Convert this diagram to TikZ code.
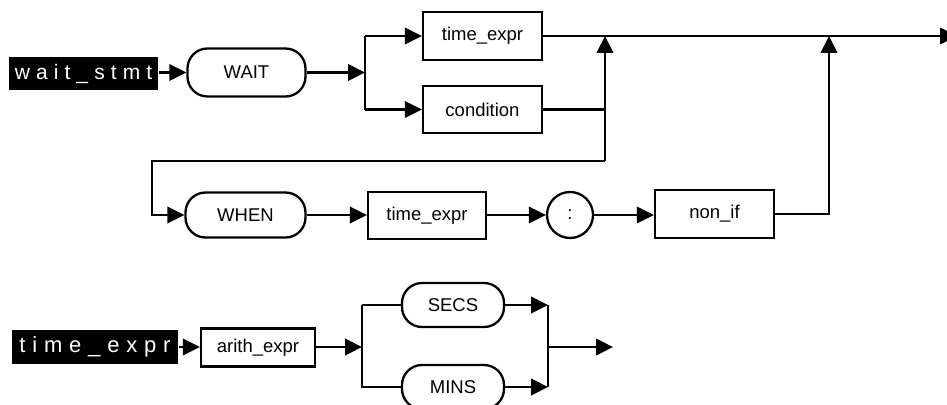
\documentclass[tikz,border=0pt]{standalone}
\usepackage{fontspec}
\setmainfont{Liberation Sans}
\usetikzlibrary{arrows.meta}
\begin{document}
\begin{tikzpicture}[x=1pt,y=-1pt,
  line width=2.3pt,
  arr/.style={-{Triangle[length=17pt,width=16.5pt]}},
  txt/.style={font=\fontsize{18.5}{20}\selectfont, inner sep=0pt},
  boxnode/.style={txt, draw, rectangle},
  termnode/.style={txt, draw, rectangle, rounded corners=20pt},
  circnode/.style={txt, draw, circle},
  rulename/.style 2 args={inner sep=0pt, fill=black, text=white,
    font=\fontsize{#1}{24}\selectfont\addfontfeature{LetterSpace=#2}}]
\useasboundingbox (0,0) rectangle (947,404);

% ---- wait_stmt ----
\node[rulename={21}{29}, minimum width=149pt, minimum height=32pt] (lblA) at (83.5,73.5) {wait\_stmt};
\node[termnode, minimum width=118pt, minimum height=48pt] (wait) at (246.5,72.5) {WAIT};
\node[boxnode, minimum width=119pt, minimum height=48pt] (te1) at (482.5,36) {time\_expr};
\node[boxnode, minimum width=119pt, minimum height=47pt] (cond) at (482.5,109.5) {condition};
\node[termnode, minimum width=120pt, minimum height=45pt] (when) at (245.5,215) {WHEN};
\node[boxnode, minimum width=118pt, minimum height=47pt] (te2) at (427,215.5) {time\_expr};
\node[circnode, minimum size=46pt] (colon) at (570,215) {:};
\node[boxnode, minimum width=119pt, minimum height=48pt] (nonif) at (714.5,214) {non\_if};

\coordinate (br)   at (365,72.5);
\coordinate (mg1)  at (605,161);
\coordinate (loopl) at (152,161);
\coordinate (mg2)  at (829,214);
\coordinate (exit) at (957,36);

\draw[arr] (lblA.east |- wait.west) -- (wait.west);
\draw[arr] (wait.east) -- (br);
\draw (br |- te1.west) -- (br |- cond.west);
\draw[arr] (br |- te1.west) -- (te1.west);
\draw[arr] (br |- cond.west) -- (cond.west);
\draw[arr] (te1.east) -- (exit);
\draw (cond.east) -- (mg1 |- cond.east);
\draw[arr] (mg1) -- (mg1 |- te1.east);
\draw[arr] (mg1) -- (loopl) -- (loopl |- when.west) -- (when.west);
\draw[arr] (when.east) -- (te2.west |- when.east);
\draw[arr] (te2.east |- colon.west) -- (colon.west);
\draw[arr] (colon.east) -- (nonif.west |- colon.east);
\draw[arr] (nonif.east) -- (mg2) -- (mg2 |- te1.east);

% ---- time_expr ----
\node[rulename={22}{31}, minimum width=166pt, minimum height=34pt] (lblB) at (95,347) {time\_expr};
\node[boxnode, minimum width=114pt, minimum height=38pt] (arith) at (258,347.5) {arith\_expr};
\node[termnode, minimum width=102pt, minimum height=44pt] (secs) at (453,305) {SECS};
\node[termnode, minimum width=102pt, minimum height=44pt] (mins) at (453,387) {MINS};

\coordinate (br2) at (362,347);
\coordinate (mg3) at (548,347);
\coordinate (out) at (613,347);

\draw[arr] (lblB.east) -- (arith.west |- lblB.east);
\draw[arr] (arith.east |- br2) -- (br2);
\draw (br2 |- secs.west) -- (secs.west);
\draw (br2 |- secs.west) -- (br2 |- mins.west) -- (mins.west);
\draw[arr] (secs.east) -- (mg3 |- secs.east);
\draw[arr] (mins.east) -- (mg3 |- mins.east);
\draw (mg3 |- secs.east) -- (mg3 |- mins.east);
\draw[arr] (mg3) -- (out);
\end{tikzpicture}
\end{document}
